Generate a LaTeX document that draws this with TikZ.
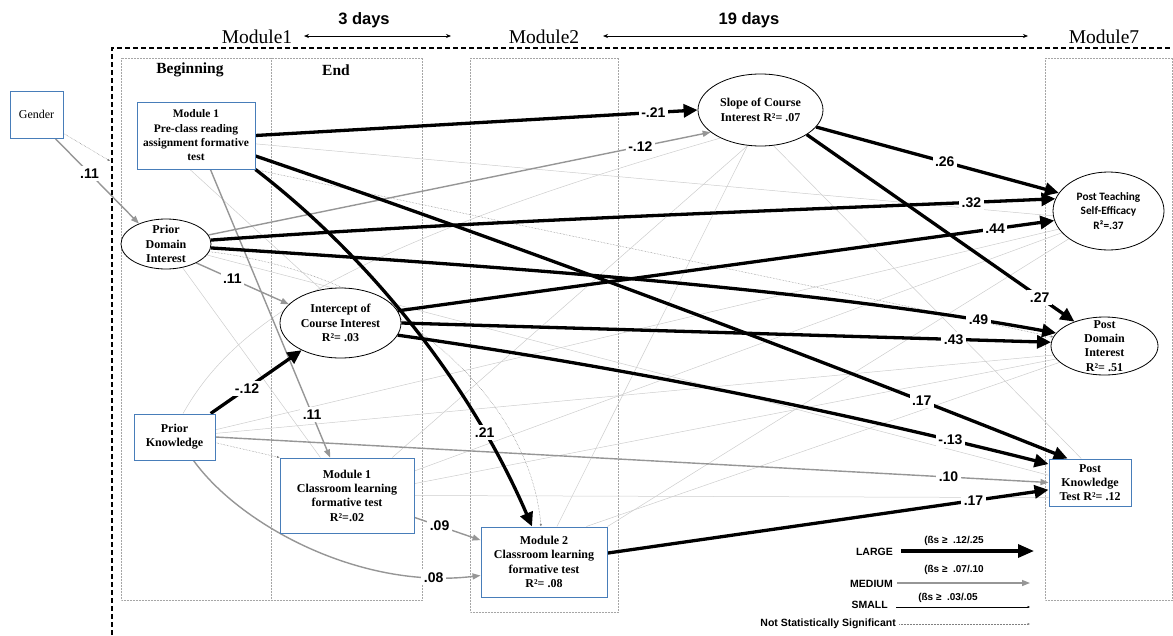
\documentclass[tikz,border=0pt]{standalone}
\usepackage{fontspec}
\setmainfont{Liberation Serif}
\setsansfont{Liberation Sans}
\newfontfamily\calfont{Carlito}
\usetikzlibrary{shapes.geometric,arrows.meta,backgrounds}
\definecolor{boxblue}{RGB}{72,125,185}
\definecolor{medgray}{RGB}{150,150,150}
\definecolor{thingray}{RGB}{205,205,205}

\begin{document}
\begin{tikzpicture}[x=1pt,y=-1pt,
        box/.style={draw=boxblue,line width=1pt,fill=white,align=center,inner sep=0pt,
            font=\bfseries\fontsize{12}{14.3}\selectfont},
        oval/.style={ellipse,draw,line width=0.8pt,fill=white,inner sep=0pt},
        ovaltext/.style={align=center,inner sep=0pt,font=\bfseries\fontsize{12}{14.3}\selectfont},
        frame/.style={draw=gray!70,densely dotted,line width=0.5pt},
        large/.style={line width=3.3pt,-{Triangle[length=14pt,width=13pt]}},
        medium/.style={draw=medgray,line width=1.4pt,-{Triangle[length=8pt,width=6pt]}},
        small/.style={draw=thingray,line width=0.5pt},
        ns/.style={draw=gray,densely dotted,line width=0.5pt,-{Triangle[length=2.5pt,width=2pt]}},
        coef/.style={fill=white,inner sep=2.5pt,font=\sffamily\bfseries\fontsize{14}{14}\selectfont},
        legtext/.style={inner sep=0pt,font=\sffamily\bfseries\fontsize{10.5}{11}\selectfont},
        legbeta/.style={inner sep=0pt,font=\sffamily\bfseries\fontsize{10}{10}\selectfont}]

    \useasboundingbox (0,0) rectangle (1173,635);

    % Time line
    \node[font=\fontsize{19.5}{20}\selectfont] (mod1) at (257,37) {Module1};
    \node[font=\fontsize{19.5}{20}\selectfont] (mod2) at (544,37) {Module2};
    \node[font=\fontsize{19.5}{20}\selectfont] (mod7) at (1104,37) {Module7};
    \node[font=\sffamily\bfseries\fontsize{16.5}{17}\selectfont] (days3) at (364,20) {3 days};
    \node[font=\sffamily\bfseries\fontsize{16.5}{17}\selectfont] (days19) at (749,20) {19 days};
    \coordinate (d3a) at (304,36);
    \coordinate (d3b) at (451,36);
    \coordinate (d19a) at (603,36);
    \coordinate (d19b) at (1028,36);
    \draw[line width=0.7pt,{Stealth[length=5pt,width=4pt]}-{Stealth[length=5pt,width=4pt]}] (d3a) -- (d3b);
    \draw[line width=0.7pt,{Stealth[length=5pt,width=4pt]}-{Stealth[length=5pt,width=4pt]}] (d19a) -- (d19b);

    % Study frame
    \draw[dash pattern=on 5pt off 3pt,line width=2.3pt] (112,635) -- (112,48) -- (1173,48);
    \node[font=\bfseries\fontsize{15.5}{16}\selectfont] (begin) at (190,70) {Beginning};
    \node[font=\bfseries\fontsize{15.5}{16}\selectfont] (end) at (336,70) {End};

    % Predictors
    \node[box,minimum width=53,minimum height=47,font=\fontsize{12}{14}\selectfont] (gender) at (36.5,114.5) {Gender};
    \node[box,minimum width=118,minimum height=67,font=\bfseries\fontsize{11.5}{14.3}\selectfont] (m1pre) at (196,135.5)
        {Module 1\\Pre-class reading\\assignment formative\\test};
    \node[oval,minimum width=90,minimum height=50,label={[ovaltext]center:{Prior\\Domain\\Interest}}] (pdi) at (166,244) {};
    \node[box,minimum width=81,minimum height=46] (pk) at (174.5,437) {Prior\\Knowledge};

    % Mediators
    \node[oval,minimum width=121,minimum height=70,label={[ovaltext]center:{Intercept of\\Course Interest\\R²= .03}}] (icpt) at (340.5,323) {};
    \node[oval,minimum width=125,minimum height=72,label={[ovaltext]center:{Slope of Course\\Interest R²= .07}}] (slope) at (760.5,110) {};
    \node[box,minimum width=134,minimum height=75] (m1cls) at (347,495.5) {Module 1\\Classroom learning\\formative test\\R²=.02};
    \node[box,minimum width=126,minimum height=70] (m2cls) at (544,562) {Module 2\\Classroom learning\\formative test\\R²= .08};

    % Outcomes
    \node[oval,minimum width=111,minimum height=78,
        label={[align=center,inner sep=0pt,font=\calfont\bfseries\fontsize{11.3}{14.7}\selectfont]center:{Post Teaching\\Self-Efficacy\\R²=.37}}] (pts) at (1108.5,211) {};
    \node[oval,minimum width=107,minimum height=58,label={[ovaltext]center:{Post\\Domain\\Interest\\R²= .51}}] (pdo) at (1104.5,346) {};
    \node[box,minimum width=82,minimum height=47] (pkt) at (1090,482.5) {Post\\Knowledge\\Test R²= .12};

    \begin{scope}[on background layer]
    % Module frames
    \draw[frame] (121,58) rectangle (422,600);
    \draw[frame] (271,58) -- (271,600);
    \draw[frame] (470,58) rectangle (618,612);
    \draw[frame] (1045,58) rectangle (1172,600);

    % Small paths
    \draw[small] (m1pre.-8) -- (pts.185);
    \draw[small] (m1pre.-100) -- (icpt.120);
    \draw[small] (pdi.-15) -- (pkt.170);
    \draw[small] (pdi.-55) -- (m1cls.125);
    \draw[small] (pk.70) .. controls (230,330) and (330,250) .. (slope.215);
    \draw[small] (pk.10) -- (pts.200);
    \draw[small] (pk.5) -- (pdo.190);
    \draw[small] (m1cls.40) -- (slope.250);
    \draw[small] (m1cls.20) -- (pts.205);
    \draw[small] (m1cls.10) -- (pdo.195);
    \draw[small] (m1cls.east) -- (pkt.200);
    \draw[small] (m2cls.north east) -- (pts.215);
    \draw[small] (m2cls.40) -- (pdo.200);
    \draw[small] (slope.-70) -- (pkt.110);
    \draw[small] (slope.-110) -- (m2cls.70);

    % Not significant paths
    \coordinate (gframe) at (110,161);
    \draw[ns] (gender.-35) -- (gframe);
    \draw[ns] (pk.-8) -- (m1cls.north west);
    \draw[ns] (m1pre.-30) -- (pdo.170);
    \draw[ns] (pdi.-10) .. controls (400,275) and (530,400) .. ([xshift=-3pt]m2cls.north);

    % Medium paths
    \draw[medium] (gender.-52) -- (pdi.143) node[coef,pos=0.41] {.11};
    \draw[medium] (pdi.-32) -- (icpt.160) node[coef,pos=0.39] {.11};
    \draw[medium] (m1pre.-67) -- (m1cls.114) node[coef,pos=0.85] {.11};
    \draw[medium] (pdi.12) -- (slope.204) node[coef,pos=0.86] {-.12};
    \draw[medium] (pk.east) -- (pkt.west) node[coef,pos=0.88] {.10};
    \draw[medium] (m1cls.-18) -- (m2cls.161) node[coef,pos=0.38] {.09};
    \draw[medium] (pk.-51) .. controls (240,525) and (360,590) .. (m2cls.192) node[coef,pos=0.87] {.08};

    % Large paths
    \draw[large] (m1pre.east) -- (slope.west) node[coef,pos=0.9] {-.21};
    \draw[large] (m1pre.south east) .. controls (373,260) and (472,387) .. ([xshift=-12pt]m2cls.north) node[coef,pos=0.77] {.21};
    \draw[large] (m1pre.-19) .. controls (525,248) and (798,351) .. (pkt.133) node[coef,pos=0.82] {.17};
    \draw[large] (slope.-17) -- (pts.160) node[coef,pos=0.53] {.26};
    \draw[large] (slope.-28) -- (pdo.141) node[coef,pos=0.87] {.27};
    \draw[large] (pdi.5) .. controls (491,220) and (776,211) .. (pts.167) node[coef,pos=0.9] {.32};
    \draw[large] (pdi.-5) .. controls (491,266) and (803,287) .. (pdo.165) node[coef,pos=0.9] {.49};
    \draw[large] (icpt.12) -- (pts.190) node[coef,pos=0.91] {.44};
    \draw[large] (icpt.east) -- (pdo.176) node[coef,pos=0.85] {.43};
    \draw[large] (icpt.-12) .. controls (621,367) and (829,409) .. (pkt.156) node[coef,pos=0.85] {-.13};
    \draw[large] (m2cls.8) -- (pkt.190) node[coef,pos=0.83] {.17};
    \draw[large] (pk.33) -- (icpt.215) node[coef,pos=0.4] {-.12};
    \end{scope}

    % Legend
    \node[legtext,anchor=east] (lglarge) at (893,552) {LARGE};
    \node[legtext,anchor=east] (lgmed) at (893,584) {MEDIUM};
    \node[legtext,anchor=east] (lgsmall) at (888,605) {SMALL};
    \node[legtext,anchor=east] (lgns) at (896,624) {Not Statistically Significant};
    \node[legbeta] (btlarge) at (954,541) {(ßs ≥\ \ .12/.25};
    \node[legbeta] (btmed) at (954,570) {(ßs ≥\ \ .07/.10};
    \node[legbeta] (btsmall) at (948,598) {(ßs ≥\ \ .03/.05};
    \coordinate (lla) at (901,551);
    \coordinate (llb) at (1034,551);
    \coordinate (lma) at (897,583);
    \coordinate (lmb) at (1030,583);
    \coordinate (lsa) at (896,607);
    \coordinate (lsb) at (1030,607);
    \coordinate (lna) at (899,624);
    \coordinate (lnb) at (1030,624);
    \draw[line width=3.3pt,-{Triangle[length=16pt,width=13pt]}] (lla) -- (llb);
    \draw[medium] (lma) -- (lmb);
    \draw[line width=0.5pt,-{Triangle[length=2.5pt,width=2pt]}] (lsa) -- (lsb);
    \draw[ns] (lna) -- (lnb);

\end{tikzpicture}
\end{document}
